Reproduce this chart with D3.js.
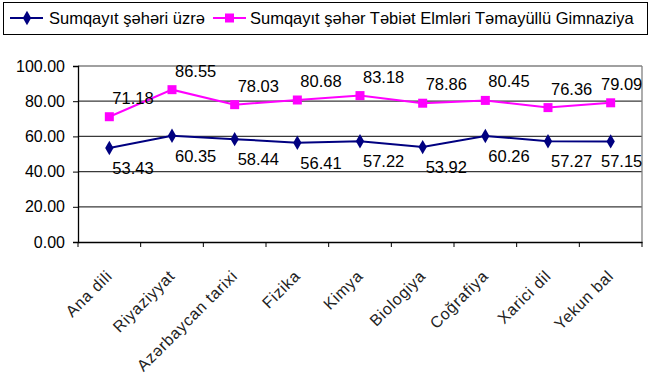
<!DOCTYPE html>
<html><head><meta charset="utf-8">
<script src="https://cdn.jsdelivr.net/npm/d3@7"></script>
<style>body{margin:0;background:#fff}svg{display:block;font-family:"Liberation Sans",Arial,sans-serif}</style>
</head><body>
<script>
const categories = ["Ana dili","Riyaziyyat","Azərbaycan tarixi","Fizika","Kimya","Biologiya","Coğrafiya","Xarici dil","Yekun bal"];
const cityValues = [53.43,60.35,58.44,56.41,57.22,53.92,60.26,57.27,57.15];
const gymValues = [71.18,86.55,78.03,80.68,83.18,78.86,80.45,76.36,79.09];
const seriesNames = ["Sumqayıt şəhəri üzrə","Sumqayıt şəhər Təbiət Elmləri Təmayüllü Gimnaziya"];
const yTicks = [0,20,40,60,80,100];

(function(){
const W=650,H=379;
const svg=d3.select("body").append("svg").attr("width",W).attr("height",H);
const pL=78,pR=642,pT=66,pB=242;
const x=d3.scaleBand().domain(categories).range([pL,pR]);
const y=d3.scaleLinear().domain([0,100]).range([pB,pT]);
const cx=d=>x(d)+x.bandwidth()/2;

// gridlines
svg.append("g").selectAll("line").data(yTicks.filter(t=>t>0)).join("line")
 .attr("x1",pL).attr("x2",pR).attr("y1",d=>y(d)).attr("y2",d=>y(d))
 .attr("stroke",d=>d===100?"#808080":"#3a3a3a").attr("stroke-width",1.3);
svg.append("line").attr("x1",pR).attr("x2",pR).attr("y1",pT).attr("y2",pB).attr("stroke","#808080").attr("stroke-width",1.3);

// y axis
const ya=svg.append("g").attr("transform",`translate(${pL},0)`)
 .call(d3.axisLeft(y).tickValues(yTicks).tickFormat(d3.format(".2f")).tickSize(5).tickPadding(8));
ya.select(".domain").attr("stroke","#000").attr("stroke-width",1.3);
ya.selectAll(".tick line").attr("stroke","#000");
ya.selectAll("text").attr("font-size",16).attr("fill","#000").attr("font-family","Liberation Sans, Arial, sans-serif");

// x axis
const xa=svg.append("g").attr("transform",`translate(0,${pB})`)
 .call(d3.axisBottom(x).tickSize(0).tickFormat(""));
xa.select(".domain").attr("stroke","#000").attr("stroke-width",1.3);
const bounds=categories.map(c=>x(c)).concat([pR]);
xa.selectAll(".bt").data(bounds).join("line").attr("class","bt")
 .attr("x1",d=>d).attr("x2",d=>d).attr("y1",0).attr("y2",5).attr("stroke","#000");
svg.append("g").selectAll("text").data(categories).join("text")
 .attr("transform",d=>`translate(${cx(d)},${pB+31}) rotate(-45)`)
 .attr("text-anchor","end").attr("dy","0.35em")
 .attr("font-size",16).attr("letter-spacing","0.7px").attr("fill","#222").text(d=>d);

// lines
const line=d3.line().x((d,i)=>cx(categories[i])).y(d=>y(d));
svg.append("path").datum(cityValues).attr("d",line).attr("fill","none").attr("stroke","#000080").attr("stroke-width",2);
svg.append("path").datum(gymValues).attr("d",line).attr("fill","none").attr("stroke","#FF00FF").attr("stroke-width",2);

const diamond=d3.symbol().type(d3.symbolDiamond).size(60);
svg.append("g").selectAll("path").data(cityValues).join("path")
 .attr("transform",(d,i)=>`translate(${cx(categories[i])},${y(d)})`).attr("d",diamond).attr("fill","#000080");
svg.append("g").selectAll("rect").data(gymValues).join("rect")
 .attr("x",(d,i)=>cx(categories[i])-4.5).attr("y",d=>y(d)-4.5).attr("width",9).attr("height",9).attr("fill","#FF00FF");

// data labels
svg.append("g").selectAll("text").data(gymValues).join("text")
 .attr("x",(d,i)=>Math.min(cx(categories[i])+3,pR-41)).attr("y",d=>y(d)-13)
 .attr("font-size",16.5).attr("fill","#000").text(d=>d.toFixed(2));
svg.append("g").selectAll("text").data(cityValues).join("text")
 .attr("x",(d,i)=>Math.min(cx(categories[i])+3,pR-41)).attr("y",d=>y(d)+26)
 .attr("font-size",16.5).attr("fill","#000").text(d=>d.toFixed(2));

// legend
svg.append("rect").attr("x",3.5).attr("y",2.5).attr("width",644).attr("height",32).attr("fill","#fff").attr("stroke","#000");
const lg=[{name:seriesNames[0],color:"#000080",type:"d",x0:10,tx:49},{name:seriesNames[1],color:"#FF00FF",type:"s",x0:213,tx:250}];
lg.forEach(l=>{
 const g=svg.append("g");
 g.append("line").attr("x1",l.x0).attr("x2",l.x0+33).attr("y1",18).attr("y2",18).attr("stroke",l.color).attr("stroke-width",2);
 if(l.type==="d") g.append("path").attr("transform",`translate(${l.x0+17},18)`).attr("d",diamond).attr("fill",l.color);
 else g.append("rect").attr("x",l.x0+12).attr("y",13.5).attr("width",9).attr("height",9).attr("fill",l.color);
 g.append("text").attr("x",l.tx).attr("y",18).attr("dy","0.35em").attr("font-size",16.5).attr("fill","#000").text(l.name);
});
})();
</script>
</body></html>
